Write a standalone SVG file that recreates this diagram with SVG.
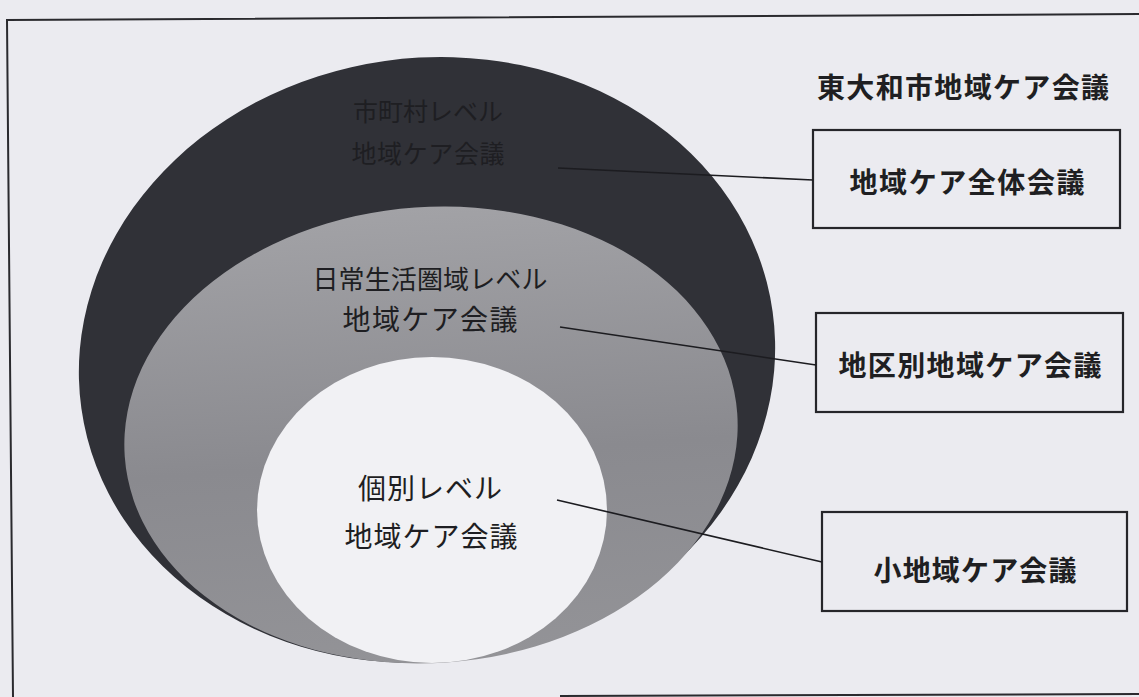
<svg xmlns="http://www.w3.org/2000/svg" width="1139" height="697" viewBox="0 0 1139 697">
  <style>
    .frame { fill: none; stroke: #2a2a2e; stroke-width: 2; }
    .box { fill: #ebebf0; stroke: #26262a; stroke-width: 2.2; }
    .conn { fill: none; stroke: #1c1c20; stroke-width: 1.6; }
    .lbl { font-family: "Noto Sans CJK JP", "Noto Sans", sans-serif; text-anchor: middle; dominant-baseline: central; }
    .boxlbl { font-size: 28px; font-weight: bold; fill: #1f1f22; }
    .inner { fill: #1e1e22; }
  </style>
  <defs>
    <linearGradient id="grayGrad" x1="0" y1="0" x2="0" y2="1">
      <stop offset="0" stop-color="#a2a2a6"/>
      <stop offset="0.55" stop-color="#8a8a8f"/>
      <stop offset="1" stop-color="#939397"/>
    </linearGradient>
  </defs>
  <rect x="0" y="0" width="1139" height="697" fill="#ebebf0"/>
  <path class="frame" d="M1139,14 L7,20 L13,697"/>
  <path class="frame" d="M560,696 L1139,694"/>

  <g id="level-city">
    <ellipse cx="427" cy="360" rx="349" ry="302" fill="#303137" transform="rotate(-8 427 360)"/>
    <text class="lbl inner" x="428" y="110" font-size="25" textLength="150" fill="#1a1a1e">市町村レベル</text>
    <text class="lbl inner" x="428" y="152" font-size="25" textLength="153" fill="#1a1a1e">地域ケア会議</text>
  </g>

  <g id="level-daily">
    <ellipse cx="431" cy="435" rx="307" ry="228" fill="url(#grayGrad)" transform="rotate(-4 431 435)"/>
    <text class="lbl inner" x="430" y="277" font-size="26" textLength="235">日常生活圏域レベル</text>
    <text class="lbl inner" x="430" y="318" font-size="28" textLength="175">地域ケア会議</text>
  </g>

  <g id="level-individual">
    <ellipse cx="432" cy="510" rx="175" ry="153" fill="#f1f1f4"/>
    <text class="lbl inner" x="430" y="487" font-size="28" textLength="144">個別レベル</text>
    <text class="lbl inner" x="431" y="535" font-size="28" textLength="173">地域ケア会議</text>
  </g>

  <g id="title">
    <text class="lbl boxlbl" x="963" y="86" textLength="292">東大和市地域ケア会議</text>
  </g>

  <g id="box-all">
    <rect class="box" x="813" y="130" width="307" height="98"/>
    <text class="lbl boxlbl" x="967" y="181" textLength="235">地域ケア全体会議</text>
  </g>

  <g id="box-district">
    <rect class="box" x="816" y="313" width="307" height="99"/>
    <text class="lbl boxlbl" x="970" y="364" textLength="263">地区別地域ケア会議</text>
  </g>

  <g id="box-small">
    <rect class="box" x="822" y="512" width="305" height="99"/>
    <text class="lbl boxlbl" x="975" y="569" textLength="203">小地域ケア会議</text>
  </g>

  <g id="connectors">
    <line class="conn" x1="558" y1="168" x2="813" y2="180"/>
    <line class="conn" x1="560" y1="327" x2="816" y2="365"/>
    <line class="conn" x1="557" y1="500" x2="822" y2="562"/>
  </g>
</svg>
